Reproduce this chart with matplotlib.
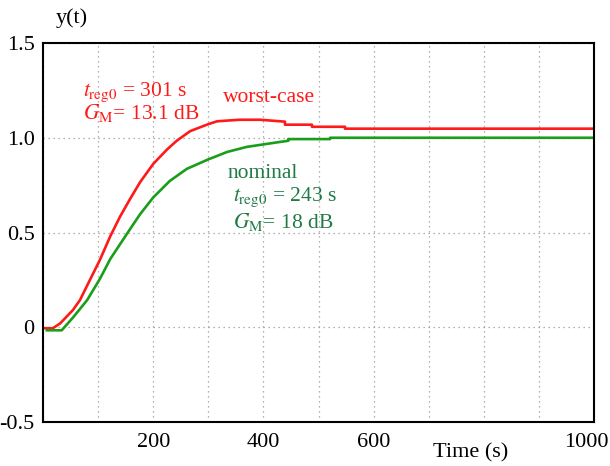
import matplotlib
matplotlib.use('Agg')
import matplotlib.pyplot as plt
from matplotlib.transforms import ScaledTranslation

# step responses (time in s, output y)
worst_t = [0, 18, 31, 54, 67, 85, 103, 122, 140, 158, 176, 200, 225, 243, 267, 300, 316, 357, 394,
           439, 439, 488, 488, 548, 548, 1000]
worst_y = [-0.005, -0.005, 0.02, 0.09, 0.143, 0.249, 0.354, 0.48, 0.585, 0.677, 0.765, 0.862, 0.938,
           0.985, 1.035, 1.072, 1.087, 1.095, 1.095, 1.085, 1.069, 1.069, 1.058, 1.058, 1.048, 1.048]

nominal_t = [7, 34, 54, 80, 103, 122, 152, 176, 200, 230, 261, 300, 334, 370, 430, 445,
             445, 521, 521, 1000]
nominal_y = [-0.016, -0.016, 0.05, 0.143, 0.254, 0.36, 0.492, 0.596, 0.685, 0.772, 0.836, 0.886,
             0.925, 0.952, 0.978, 0.984, 0.993, 0.993, 1.0, 1.0]

x_ticks = [200, 400, 600, 1000]
y_ticks = [-0.5, 0, 0.5, 1.0, 1.5]
y_labels = ['-0.5', '0', '0.5', '1.0', '1.5']

red = '#ff1a1a'
green_line = '#1a9e1a'
green_text = '#1f7a45'
fs = 16
fs_note = 15.5

plt.rcParams['font.family'] = ['Liberation Serif', 'DejaVu Serif']
plt.rcParams['mathtext.fontset'] = 'stix'

fig = plt.figure(figsize=(6.1, 4.66), dpi=100)
ax = fig.add_axes([0.0705, 0.0944, 0.9035, 0.8133])

ax.plot(worst_t, worst_y, color=red, lw=1.9)
ax.plot(nominal_t, nominal_y, color=green_line, lw=1.9)

ax.set_xlim(0, 1000)
ax.set_ylim(-0.5, 1.5)
ax.set_xticks(range(0, 1001, 100), minor=True)
ax.set_xticks(x_ticks)
ax.set_xticklabels([str(v) for v in x_ticks])
ax.set_yticks(y_ticks)
ax.set_yticklabels(y_labels)
ax.tick_params(which='both', length=0, labelsize=fs)
ax.tick_params(axis='x', pad=8)
ax.tick_params(axis='y', pad=6)
ax.grid(True, which='both', axis='x', color='#999999', ls=(0, (1, 3)), lw=0.9)
ax.grid(True, which='major', axis='y', color='#999999', ls=(0, (1, 3)), lw=0.9)
for s in ax.spines.values():
    s.set_linewidth(1.5)

# keep the last x label inside the figure, like the reference
last = ax.get_xticklabels()[-1]
last.set_ha('right')
last.set_transform(last.get_transform() + ScaledTranslation(0.14, 0, fig.dpi_scale_trans))

fig.text(0.118, 0.962, 'y(t)', fontsize=fs, ha='center', va='center')
fig.text(0.772, 0.028, 'Time (s)', fontsize=fs, ha='center', va='center')

ax.text(0.072, 0.871, r'$t_{\mathrm{reg0}}$ = 301 s', transform=ax.transAxes, color=red, fontsize=fs_note, va='center')
ax.text(0.072, 0.815, r'$G_{\mathrm{M}}$= 13.1 dB', transform=ax.transAxes, color=red, fontsize=fs_note, va='center')
ax.text(0.327, 0.857, 'worst-case', transform=ax.transAxes, color=red, fontsize=fs_note, va='center')

ax.text(0.334, 0.657, 'nominal', transform=ax.transAxes, color=green_text, fontsize=fs_note, va='center')
ax.text(0.345, 0.594, r'$t_{\mathrm{reg0}}$ = 243 s', transform=ax.transAxes, color=green_text, fontsize=fs_note, va='center')
ax.text(0.345, 0.528, r'$G_{\mathrm{M}}$= 18 dB', transform=ax.transAxes, color=green_text, fontsize=fs_note, va='center')

fig.savefig('out.png', dpi=100)
